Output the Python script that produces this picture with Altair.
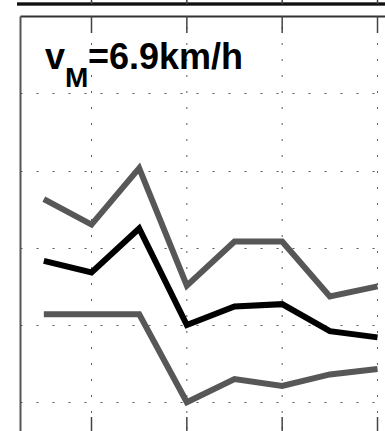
import altair as alt
import pandas as pd

# Gait cycle steps and the three traces (upper band, mean, lower band)
step = [1, 2, 3, 4, 5, 6, 7, 8]
upper = [2.63, 2.30, 3.03, 1.51, 2.08, 2.08, 1.37, 1.50]
middle = [1.83, 1.68, 2.25, 1.00, 1.24, 1.27, 0.92, 0.84]
lower = [1.14, 1.14, 1.14, 0.00, 0.30, 0.21, 0.36, 0.43]

x_ticks = [2, 4, 6, 8]
y_ticks = [0, 1, 2, 3, 4]

X_DOMAIN = [0.5, 8.157]
Y_DOMAIN = [-0.372, 5.0]

GRAY = "#575757"
GRID = "#5a5a5a"

rows = []
for name, vals in (("upper", upper), ("lower", lower), ("mean", middle)):
    for s, v in zip(step, vals):
        rows.append({"step": s, "value": v, "series": name})
df = pd.DataFrame(rows)
ticks_df = pd.DataFrame({"tick": x_ticks})

x_scale = alt.Scale(domain=X_DOMAIN, nice=False, zero=False)
y_scale = alt.Scale(domain=Y_DOMAIN, nice=False, zero=False)

# Dotted vertical grid at the x ticks
v_grid = alt.Chart(ticks_df).mark_rule(color=GRID, strokeWidth=1, strokeDash=[2, 14],
                                       strokeDashOffset=5).encode(
    x=alt.X("tick:Q", scale=x_scale,
            axis=alt.Axis(orient="top", values=x_ticks, labels=False, ticks=False,
                          title=None, grid=False, domainColor="#333333", domainWidth=2)),
    y=alt.value(0), y2=alt.value(415),
)

lines = alt.Chart(df).mark_line(strokeWidth=6, strokeJoin="miter", strokeCap="butt").encode(
    x=alt.X("step:Q", scale=x_scale),
    y=alt.Y("value:Q", scale=y_scale,
            axis=alt.Axis(orient="left", values=y_ticks, labels=False, ticks=False,
                          title=None, grid=True, gridDash=[2, 14], gridColor=GRID,
                          gridWidth=1, domainColor="#555555", domainWidth=2)),
    color=alt.Color("series:N", scale=alt.Scale(domain=["upper", "lower", "mean"],
                                                range=[GRAY, GRAY, "#000000"]), legend=None),
    detail="series:N",
)

# Inward tick marks along the top and bottom edges
top_ticks = alt.Chart(ticks_df).mark_rule(color="#444444", strokeWidth=1.5).encode(
    x=alt.X("tick:Q", scale=x_scale),
    y=alt.value(0), y2=alt.value(17),
)
bottom_ticks = alt.Chart(ticks_df).mark_rule(color="#444444", strokeWidth=1.5).encode(
    x=alt.X("tick:Q", scale=x_scale),
    y=alt.value(401), y2=alt.value(417),
)

# Lower edge of the panel above, with its ticks
above_edge = alt.Chart(ticks_df).mark_rule(color="#111111", strokeWidth=2.5).encode(
    x=alt.value(-3), x2=alt.value(365), y=alt.value(-12),
)
above_ticks = alt.Chart(ticks_df).mark_rule(color="#444444", strokeWidth=1.5).encode(
    x=alt.X("tick:Q", scale=x_scale),
    y=alt.value(-16), y2=alt.value(-12),
)

lbl = pd.DataFrame({"t": ["x"]})
font = "Liberation Sans"
v_txt = alt.Chart(lbl).mark_text(align="left", baseline="alphabetic", font=font,
                                 fontWeight="bold", fontSize=36, color="black", text="v").encode(
    x=alt.value(25), y=alt.value(53))
m_txt = alt.Chart(lbl).mark_text(align="left", baseline="alphabetic", font=font,
                                 fontWeight="bold", fontSize=28, color="black", text="M").encode(
    x=alt.value(45), y=alt.value(71))
rest_txt = alt.Chart(lbl).mark_text(align="left", baseline="alphabetic", font=font,
                                    fontWeight="bold", fontSize=36, color="black",
                                    text="=6.9km/h").encode(
    x=alt.value(68), y=alt.value(53))

chart = alt.layer(
    v_grid, lines, top_ticks, bottom_ticks, above_edge, above_ticks, v_txt, m_txt, rest_txt
).properties(
    width=365, height=415,
    autosize=alt.AutoSizeParams(type="none"),
    padding={"left": 20, "top": 16, "right": 0, "bottom": 0},
).configure_view(stroke=None).configure(background="white")

chart.save("out.html", embed_options={"renderer": "svg", "actions": False})
